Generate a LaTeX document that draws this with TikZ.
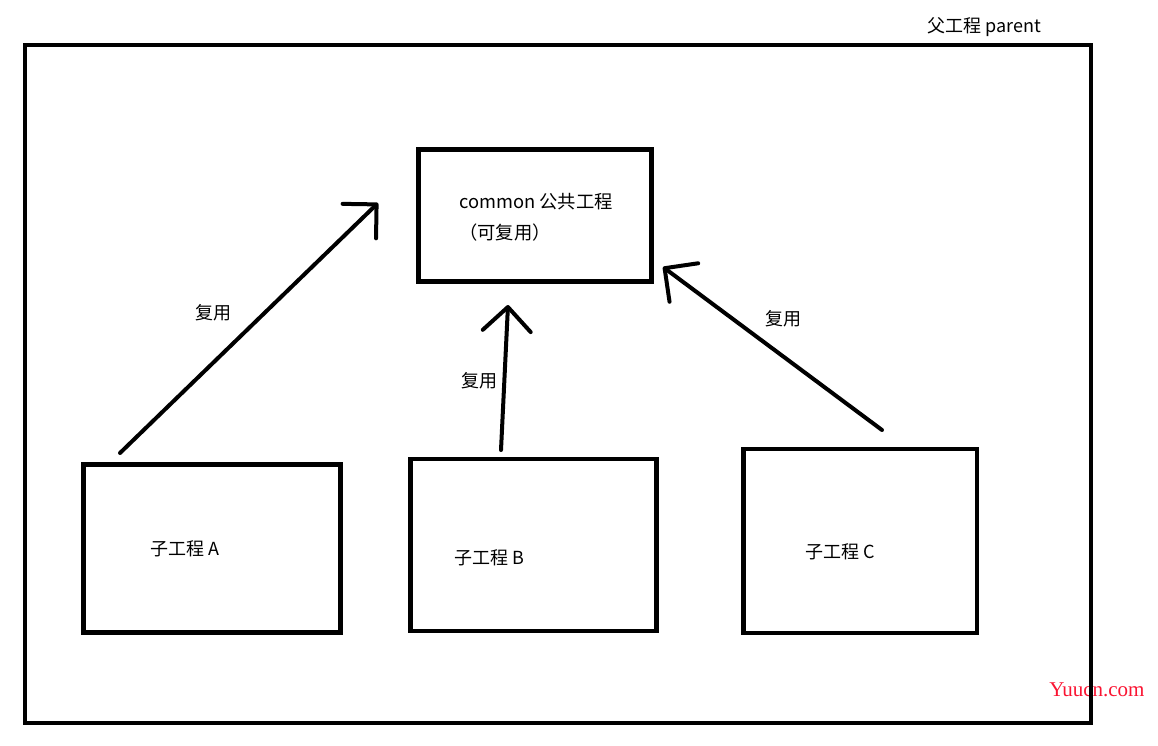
\documentclass[tikz,border=0pt]{standalone}
\usepackage{fontspec}
\setmainfont{Noto Sans CJK SC}
\newfontfamily\markfont{Liberation Serif}
\usetikzlibrary{arrows.meta}
\definecolor{markred}{RGB}{250,20,50}

\begin{document}
\begin{tikzpicture}[x=1pt, y=-1pt,
        box/.style={draw, line width=4.5pt, inner sep=0pt},
        txt/.style={inner sep=0pt, font=\fontsize{18}{22}\selectfont},
        reuse/.style={line width=4pt, line cap=round,
            -{Straight Barb[length=24pt, width=48pt, round]}}]
    \useasboundingbox (0, 0) rectangle (1158, 745);
    \node[text=markred, inner sep=0pt, font=\markfont\fontsize{21}{21}\selectfont] (mark) at (1097, 690) {Yuucn.com};
    \node[box, minimum width=1066pt, minimum height=678pt] (parentBox) at (558, 384) {};
    \node[txt, anchor=west] (parentText) at (927, 27) {父工程 parent};
    % common
    \node[box, minimum width=233pt, minimum height=132pt] (commonBox) at (535, 215.5) {};
    \node[txt, anchor=west, align=left, font=\fontsize{18.3}{31}\selectfont] (commonText) at (459, 217.5) {common 公共工程\\（可复用）};
    % children
    \node[box, minimum width=257pt, minimum height=168pt] (childA) at (212, 548.5) {};
    \node[box, minimum width=246pt, minimum height=172pt] (childB) at (533.6, 544.8) {};
    \node[box, minimum width=233.5pt, minimum height=184pt] (childC) at (860.2, 541) {};
    \node[txt] (textA) at (185, 549) {子工程 A};
    \node[txt] (textB) at (489, 558) {子工程 B};
    \node[txt] (textC) at (840, 552) {子工程 C};
    % reuse arrows
    \coordinate (tailA) at (120, 453);
    \coordinate (tipA) at (378, 203);
    \coordinate (tailB) at (501, 450);
    \coordinate (tipB) at (508, 305);
    \coordinate (tailC) at (882, 430);
    \coordinate (tipC) at (663, 267);
    \draw[reuse] (tailA) -- (tipA);
    \draw[reuse] (tailB) -- (tipB);
    \draw[reuse] (tailC) -- (tipC);
    \node[txt] (reuseA) at (213, 313) {复用};
    \node[txt] (reuseB) at (479, 381) {复用};
    \node[txt] (reuseC) at (783, 319) {复用};
\end{tikzpicture}
\end{document}
